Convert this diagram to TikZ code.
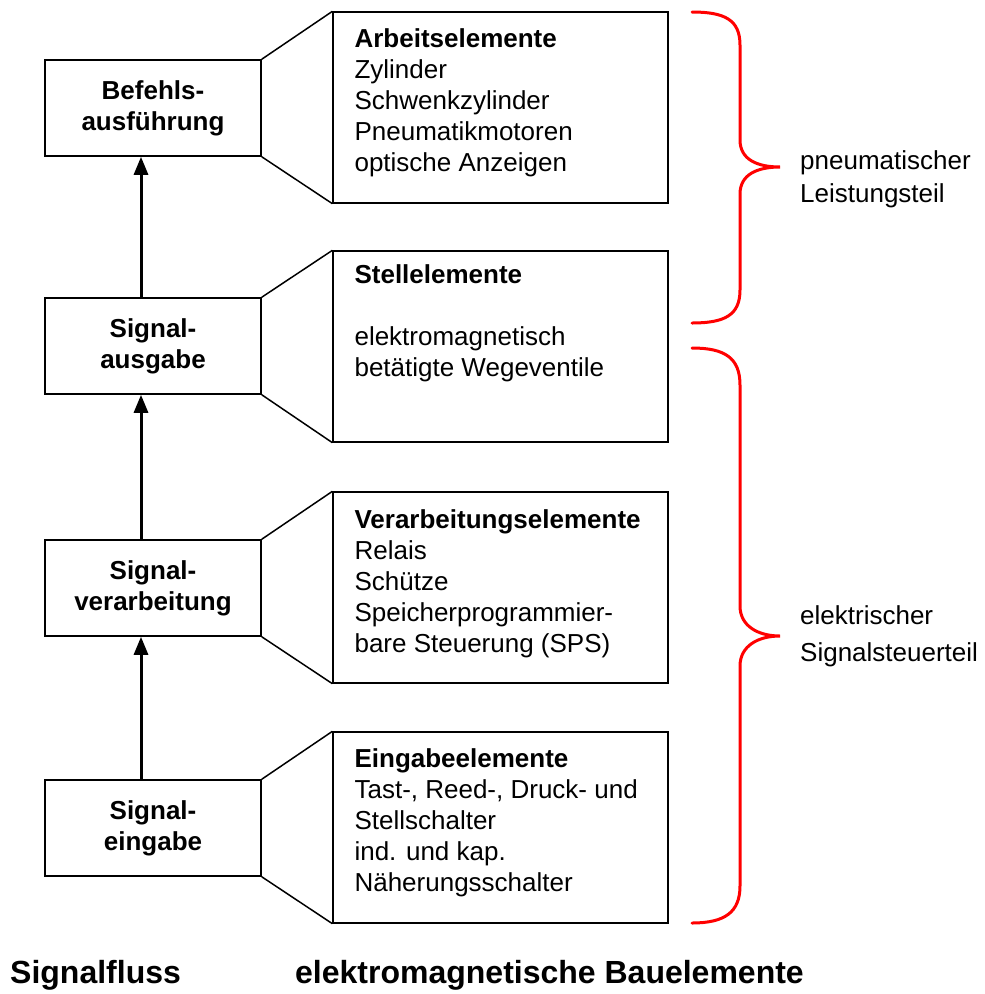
\documentclass[tikz,border=0pt]{standalone}
\usepackage{fontspec}
\setmainfont{Liberation Sans}
\usetikzlibrary{positioning}
\usetikzlibrary{arrows.meta}
\tikzset{smallbox/.style={draw,line width=1.6pt,minimum width=216pt,minimum height=96pt,inner sep=0pt,align=center,font=\fontsize{26}{31}\selectfont\bfseries}}
\tikzset{bigbox/.style={draw,line width=1.3pt,minimum width=335pt,minimum height=191pt,inner sep=0pt}}
\tikzset{boxtext/.style={anchor=north west,inner sep=0pt,align=left,font=\fontsize{26}{31}\selectfont}}
\tikzset{sideline/.style={line width=1.5pt}}
\tikzset{flow/.style={line width=3pt,-{Triangle[width=14pt,length=18pt]}}}
\tikzset{redbrace/.style={red,line width=3pt,line cap=round}}

\begin{document}
\begin{tikzpicture}[x=1pt,y=-1pt]
\useasboundingbox (0,0) rectangle (985,994);
% Signalfluss
\node[smallbox] (befehl) at (153,108) {Befehls-\\ausführung};
\node[smallbox] (ausgabe) at (153,346) {Signal-\\ausgabe};
\node[smallbox] (verarb) at (153,588) {Signal-\\verarbeitung};
\node[smallbox] (eingabe) at (153,828) {Signal-\\eingabe};
\draw[flow] ([xshift=-12pt]eingabe.north) -- ([xshift=-12pt]verarb.south);
\draw[flow] ([xshift=-12pt]verarb.north) -- ([xshift=-12pt]ausgabe.south);
\draw[flow] ([xshift=-12pt]ausgabe.north) -- ([xshift=-12pt]befehl.south);
% Bauelemente
\node[bigbox] (arbeit) at (500.5,107.5) {};
\node[bigbox] (stell) at (500.5,346.5) {};
\node[bigbox] (verarbel) at (500.5,587.5) {};
\node[bigbox] (eingabel) at (500.5,827.5) {};
\node[boxtext] (arbeittxt) at ([shift={(22,17)}]arbeit.north west) {\textbf{Arbeitselemente}\\Zylinder\\Schwenkzylinder\\Pneumatikmotoren\\optische Anzeigen};
\node[boxtext] (stelltxt) at ([shift={(22,14)}]stell.north west) {\textbf{Stellelemente}\\[31pt]elektromagnetisch\\betätigte Wegeventile};
\node[boxtext] (verarbtxt) at ([shift={(22,18)}]verarbel.north west) {\textbf{Verarbeitungselemente}\\Relais\\Schütze\\Speicherprogrammier-\\bare Steuerung (SPS)};
\node[boxtext] (eingabetxt) at ([shift={(22,17)}]eingabel.north west) {\textbf{Eingabeelemente}\\Tast-, Reed-, Druck- und\\Stellschalter\\ind. und kap.\\Näherungsschalter};
\foreach \s/\b in {befehl/arbeit,ausgabe/stell,verarb/verarbel,eingabe/eingabel} {
\draw[sideline] (\s.north east) -- (\b.north west);
\draw[sideline] (\s.south east) -- (\b.south west);
}
% Klammern
\draw[redbrace] (692,12) .. controls (725,12) and (740,20) .. (740,45) -- (740,140)
  .. controls (740,160) and (758,167) .. (780,167)
  .. controls (758,167) and (740,174) .. (740,194) -- (740,290)
  .. controls (740,315) and (725,323) .. (692,323);
\draw[redbrace] (692,348) .. controls (725,348) and (740,358) .. (740,385) -- (740,606)
  .. controls (740,626) and (758,636) .. (780,636)
  .. controls (758,636) and (740,646) .. (740,666) -- (740,886)
  .. controls (740,912) and (725,923) .. (692,923);
\node[anchor=west,align=left,inner sep=0pt,font=\fontsize{26}{33}\selectfont] (pneulabel) at (800,179) {pneumatischer\\Leistungsteil};
\node[anchor=west,align=left,inner sep=0pt,font=\fontsize{26}{37}\selectfont] (elektlabel) at (800,636) {elektrischer\\Signalsteuerteil};
% Unterschriften
\node[anchor=base west,inner sep=0pt,font=\fontsize{32}{38}\selectfont\bfseries] (flusslabel) at (10,983) {Signalfluss};
\node[anchor=base west,inner sep=0pt,font=\fontsize{32}{38}\selectfont\bfseries] (bauellabel) at (295,983) {elektromagnetische Bauelemente};
\end{tikzpicture}
\end{document}
